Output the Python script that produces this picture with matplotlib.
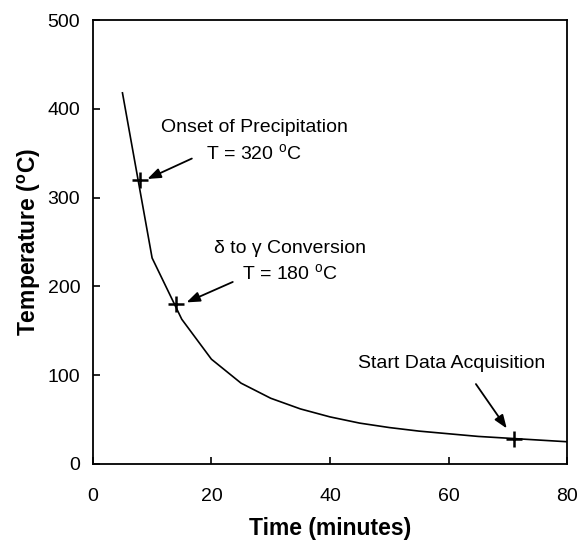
import matplotlib
matplotlib.use("Agg")
import matplotlib.pyplot as plt

plt.rcParams['font.family'] = ['Liberation Sans', 'DejaVu Sans']
plt.rcParams['mathtext.default'] = 'regular'

time_min = [5, 10, 15, 20, 25, 30, 35, 40, 45, 50, 55, 60, 65, 70, 75, 80]
temp_c = [418, 232, 163, 118, 91, 74, 62, 53, 46, 41, 37, 34, 31, 29, 27, 25]

mark_t = [8, 14, 71]
mark_T = [320, 180, 28]

x_ticks = [0, 20, 40, 60, 80]
y_ticks = [0, 100, 200, 300, 400, 500]

fig = plt.figure(figsize=(5.8, 5.42), dpi=100)
ax = fig.add_axes([0.160, 0.144, 0.818, 0.819])

ax.plot(time_min, temp_c, color='black', lw=1.2)
ax.plot(mark_t, mark_T, linestyle='none', marker='+', color='black',
        markersize=11, markeredgewidth=1.8)

ax.set_xlim(0, 80)
ax.set_ylim(0, 500)
ax.set_xticks(x_ticks)
ax.set_yticks(y_ticks)
ax.tick_params(direction='in', length=5, width=1.2, labelsize=14)
ax.tick_params(axis='y', pad=9)
ax.tick_params(axis='x', pad=17)
for s in ax.spines.values():
    s.set_linewidth(1.3)

ax.set_xlabel('Time (minutes)', fontsize=16.5, fontweight='bold', labelpad=9)
ax.set_ylabel('Temperature ($^{o}$C)', fontsize=16.5, fontweight='bold', labelpad=3)

arrowprops = dict(arrowstyle='-|>,head_length=0.8,head_width=0.3', color='black', lw=1.3,
                  shrinkA=0, shrinkB=0)

fs = 14
ax.text(27.2, 379, 'Onset of Precipitation', ha='center', va='center', fontsize=fs)
ax.text(27.2, 350, 'T = 320 $^{o}$C', ha='center', va='center', fontsize=fs)
ax.annotate('', xy=(9.2, 321), xytext=(16.7, 344), arrowprops=arrowprops)

ax.text(33.2, 243, 'δ to γ Conversion', ha='center', va='center', fontsize=fs)
ax.text(33.2, 215, 'T = 180 $^{o}$C', ha='center', va='center', fontsize=fs)
ax.annotate('', xy=(15.8, 182), xytext=(23.6, 205), arrowprops=arrowprops)

ax.text(60.5, 113, 'Start Data Acquisition', ha='center', va='center', fontsize=fs)
ax.annotate('', xy=(69.8, 40), xytext=(64.6, 90), arrowprops=arrowprops)

fig.savefig('out.png', dpi=100)
